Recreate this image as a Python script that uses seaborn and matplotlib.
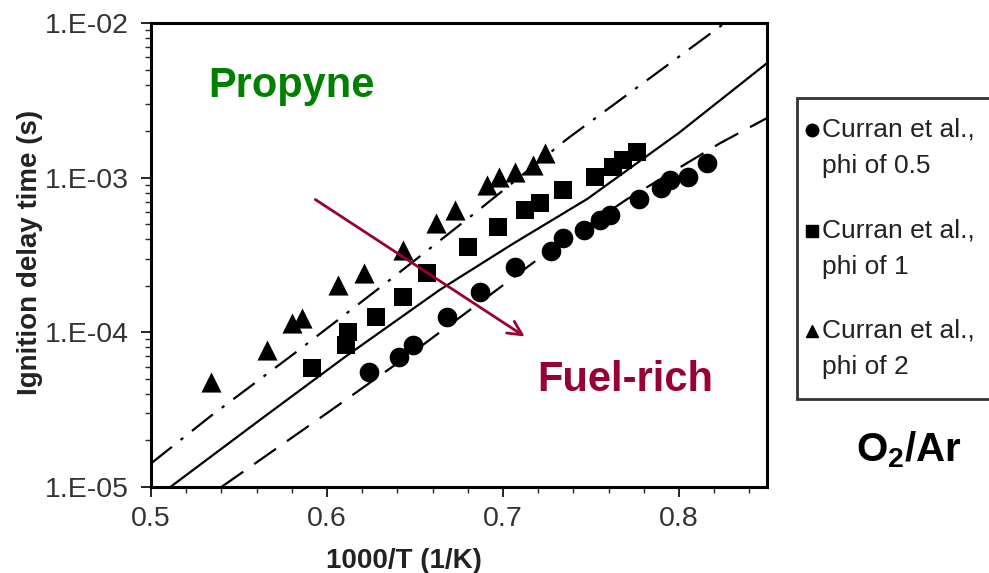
import numpy as np
import pandas as pd
import matplotlib
matplotlib.use("Agg")
import matplotlib.pyplot as plt
from matplotlib.lines import Line2D
from matplotlib.legend_handler import HandlerLine2D
import seaborn as sns

# ---------------- data ----------------
phi05_x = [0.624, 0.641, 0.649, 0.668, 0.687, 0.707, 0.727, 0.734, 0.746, 0.755, 0.761,
           0.777, 0.790, 0.795, 0.805, 0.816]
phi05_y = [5.5e-5, 6.9e-5, 8.3e-5, 1.26e-4, 1.83e-4, 2.65e-4, 3.36e-4, 4.07e-4, 4.59e-4,
           5.33e-4, 5.74e-4, 7.28e-4, 8.6e-4, 9.6e-4, 1.01e-3, 1.25e-3]

phi1_x = [0.5915, 0.611, 0.612, 0.628, 0.643, 0.657, 0.680, 0.697, 0.7125, 0.721, 0.734,
          0.752, 0.7625, 0.768, 0.776]
phi1_y = [5.9e-5, 8.3e-5, 1.0e-4, 1.26e-4, 1.69e-4, 2.42e-4, 3.56e-4, 4.8e-4, 6.2e-4,
          6.9e-4, 8.3e-4, 1.01e-3, 1.17e-3, 1.30e-3, 1.47e-3]

phi2_x = [0.534, 0.566, 0.580, 0.586, 0.606, 0.621, 0.643, 0.662, 0.673, 0.691, 0.698,
          0.707, 0.717, 0.724]
phi2_y = [4.8e-5, 7.7e-5, 1.15e-4, 1.24e-4, 2.02e-4, 2.42e-4, 3.41e-4, 5.1e-4, 6.2e-4,
          9.0e-4, 1.01e-3, 1.09e-3, 1.21e-3, 1.45e-3]

# model curves
model2_x = [0.500, 0.5335, 0.5835, 0.635, 0.684, 0.737, 0.826]
model2_y = [1.42e-5, 2.85e-5, 7.6e-5, 2.15e-4, 5.9e-4, 1.8e-3, 1.0e-2]

model1_x = [0.511, 0.562, 0.610, 0.664, 0.705, 0.748, 0.800, 0.850]
model1_y = [1.0e-5, 2.72e-5, 6.9e-5, 1.88e-4, 3.7e-4, 7.3e-4, 1.95e-3, 5.5e-3]

model05_x = [0.540, 0.6017, 0.650, 0.691, 0.7193, 0.770, 0.8233, 0.850]
model05_y = [1.0e-5, 3.1e-5, 7.6e-5, 1.69e-4, 2.94e-4, 7.2e-4, 1.67e-3, 2.43e-3]

legend_labels = ["Curran et al.,\nphi of 0.5", "Curran et al.,\nphi of 1", "Curran et al.,\nphi of 2"]
x_ticks = [0.5, 0.6, 0.7, 0.8]
y_ticks = [1e-5, 1e-4, 1e-3, 1e-2]
y_ticklabels = ["1.E-05", "1.E-04", "1.E-03", "1.E-02"]

# ---------------- style ----------------
sns.set_theme(style="ticks")
plt.rcParams["font.family"] = ["Liberation Sans", "DejaVu Sans"]
plt.rcParams["mathtext.fontset"] = "custom"
plt.rcParams["mathtext.rm"] = "Liberation Sans:bold"
plt.rcParams["mathtext.it"] = "Liberation Sans:bold"

W, H = 989, 573
fig = plt.figure(figsize=(W / 100, H / 100), dpi=100)
ax = fig.add_axes([151 / W, 1 - 487 / H, (767 - 151) / W, (487 - 23) / H])

# model lines
sns.lineplot(x=model2_x, y=model2_y, ax=ax, color="black", lw=1.6, sort=True)
ax.lines[-1].set_dashes([12, 5, 1.5, 5])
sns.lineplot(x=model1_x, y=model1_y, ax=ax, color="black", lw=1.6, sort=True)
sns.lineplot(x=model05_x, y=model05_y, ax=ax, color="black", lw=1.6, sort=True)
ax.lines[-1].set_dashes([12, 6])
for ln in ax.lines:
    ln.set_solid_joinstyle("round")
    ln.set_dash_joinstyle("round")

# experimental points
df = pd.concat([
    pd.DataFrame({"x": phi05_x, "y": phi05_y, "s": "0.5"}),
    pd.DataFrame({"x": phi1_x, "y": phi1_y, "s": "1"}),
    pd.DataFrame({"x": phi2_x, "y": phi2_y, "s": "2"}),
])
sizes = {"0.5": 200, "1": 170, "2": 210}
marks = {"0.5": "o", "1": "s", "2": "^"}
for key in ["0.5", "1", "2"]:
    sub = df[df["s"] == key]
    sns.scatterplot(data=sub, x="x", y="y", marker=marks[key], s=sizes[key],
                    color="black", edgecolor="black", linewidth=0, ax=ax,
                    legend=False, zorder=3)

ax.set_yscale("log")
ax.set_xlim(0.5, 0.85)
ax.set_ylim(1e-5, 1e-2)
ax.set_xticks(x_ticks)
ax.set_xticklabels([f"{v:.1f}" for v in x_ticks])
ax.set_xticks(np.arange(0.5, 0.851, 0.02), minor=True)
ax.set_yticks(y_ticks)
ax.set_yticklabels(y_ticklabels)
ax.tick_params(axis="both", which="major", labelsize=20.5, length=7, width=1.2,
               direction="out", colors="black", labelcolor="#333333")
ax.tick_params(axis="x", which="major", pad=7)
ax.tick_params(axis="y", which="major", pad=9)
ax.tick_params(axis="both", which="minor", length=4, width=1.0, direction="out")
for sp in ax.spines.values():
    sp.set_visible(True)
    sp.set_linewidth(2.2)
    sp.set_color("black")

ax.set_xlabel("1000/T (1/K)", fontsize=20, fontweight="bold", labelpad=8, color="#222222")
ax.xaxis.set_label_coords((404 - 151) / 616, -(548 - 487) / 464)
ax.set_ylabel("Ignition delay time (s)", fontsize=20, fontweight="bold", color="#222222")
ax.yaxis.set_label_coords(-(151 - 43) / 616, (487 - 252) / 464)

# annotations
ax.text((291 - 151) / 616, 1 - (86 - 23) / 464, "Propyne",
        transform=ax.transAxes, color="#008000", fontsize=30, fontweight="bold",
        ha="center", va="center")
ax.text((625 - 151) / 616, 1 - (380 - 23) / 464, "Fuel-rich",
        transform=ax.transAxes, color="#990033", fontsize=30, fontweight="bold",
        ha="center", va="center")
ax.annotate("", xy=((527 - 151) / 616, 1 - (338 - 23) / 464),
            xytext=((313 - 151) / 616, 1 - (198 - 23) / 464),
            xycoords="axes fraction", textcoords="axes fraction",
            arrowprops=dict(arrowstyle="->", color="#990033", lw=2,
                            mutation_scale=25))
fig.text(909 / W, 1 - 450 / H, r"$\mathrm{O_2/Ar}$", fontsize=29, ha="center",
         va="center", color="black")


# legend (markers aligned with the first text line)
class ShiftedHandler(HandlerLine2D):
    def __init__(self, dx=0.0, dy=0.0, **kw):
        super().__init__(**kw)
        self.dx, self.dy = dx, dy

    def create_artists(self, legend, orig_handle, xdescent, ydescent, width,
                       height, fontsize, trans):
        arts = super().create_artists(legend, orig_handle, xdescent, ydescent,
                                      width, height, fontsize, trans)
        for a in arts:
            a.set_xdata(np.asarray(a.get_xdata(), float) + self.dx * fontsize)
            a.set_ydata(np.asarray(a.get_ydata(), float) + self.dy * fontsize)
        return arts


handles = [Line2D([], [], ls="none", marker=m, color="black", markersize=ms)
           for m, ms in zip(["o", "s", "^"], [9, 9, 9])]
leg = fig.legend(handles, legend_labels, loc="upper left",
                 bbox_to_anchor=(797 / W, 1 - 98 / H), fontsize=19,
                 frameon=True, fancybox=False, edgecolor="black",
                 handlelength=0.2, handletextpad=0.0, labelspacing=1.52,
                 borderpad=0.75, borderaxespad=0,
                 handler_map={Line2D: ShiftedHandler(dx=-0.3, dy=0.68)})
leg.get_frame().set_linewidth(2)
for t in leg.get_texts():
    t.set_color("#222222")
    t.set_linespacing(1.65)

fig.savefig("out.png", dpi=100)
